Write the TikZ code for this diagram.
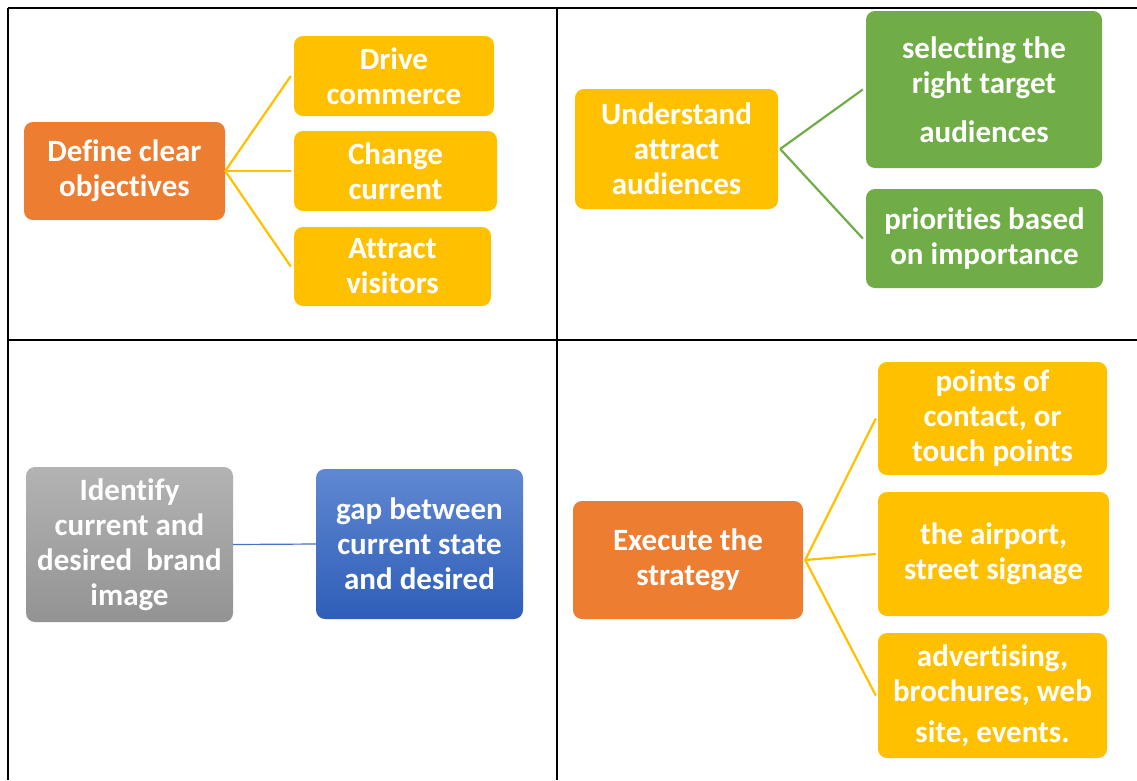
\documentclass[tikz,border=0pt]{standalone}
\usepackage{fontspec}
\setmainfont{Carlito}[Ligatures={NoCommon,NoRequired,NoContextual}]
\definecolor{cOrange}{HTML}{ED7D31}
\definecolor{cYellow}{HTML}{FFC000}
\definecolor{cGreen}{HTML}{70AD47}
\definecolor{cBlueTop}{HTML}{6088D2}
\definecolor{cBlueBot}{HTML}{2E5EB8}
\definecolor{cGrayTop}{HTML}{B3B3B3}
\definecolor{cGrayBot}{HTML}{939393}
\definecolor{cLineBlue}{HTML}{4472C4}
\tikzset{
  bx/.style={rectangle, rounded corners=9pt, inner sep=0pt, align=center,
    text=white, font=\bfseries\fontsize{31}{35}\selectfont},
  orangebox/.style={bx, fill=cOrange},
  yellowbox/.style={bx, fill=cYellow},
  greenbox/.style={bx, fill=cGreen},
  graybox/.style={bx, top color=cGrayTop, bottom color=cGrayBot},
  bluebox/.style={bx, top color=cBlueTop, bottom color=cBlueBot},
  gridline/.style={line width=2.2pt, black},
  yconn/.style={line width=2.2pt, cYellow},
  gconn/.style={line width=2.2pt, cGreen},
  bconn/.style={line width=1.2pt, cLineBlue},
}
\begin{document}
\begin{tikzpicture}[x=1pt,y=-1pt]
\useasboundingbox (0,0) rectangle (1137,780);
% table grid
\draw[gridline] (8,8) -- (1137,8);
\draw[gridline] (8,8) -- (8,780);
\draw[gridline] (557,8) -- (557,780);
\draw[gridline] (8,340) -- (1137,340);

% top-left
\node[orangebox, minimum width=201pt, minimum height=98pt] (obj) at (124.5,171) {Define clear\\objectives};
\node[yellowbox, minimum width=200pt, minimum height=80pt] (drive) at (394,76) {Drive\\commerce};
\node[yellowbox, minimum width=203pt, minimum height=80pt] (change) at (395.5,171) {Change\\current};
\node[yellowbox, minimum width=197pt, minimum height=79pt] (attract) at (392.5,266.5) {Attract\\visitors};
\draw[yconn] (obj.east) -- ([xshift=-3pt]drive.west);
\draw[yconn] (obj.east) -- ([xshift=-3pt]change.west);
\draw[yconn] (obj.east) -- ([xshift=-3pt]attract.west);

% top-right
\node[yellowbox, minimum width=203pt, minimum height=120pt] (und) at (676.5,149) {Understand\\attract\\audiences};
\node[greenbox, minimum width=236pt, minimum height=157pt] (sel) at (984,89.5) {selecting the\\right target\\[14pt]audiences};
\node[greenbox, minimum width=237pt, minimum height=99pt] (prio) at (984.5,238.5) {priorities based\\on importance};
\draw[gconn] ([xshift=2pt]und.east) -- ([xshift=-3pt]sel.west);
\draw[gconn] ([xshift=2pt]und.east) -- ([xshift=-3pt]prio.west);

% bottom-left
\node[graybox, minimum width=207pt, minimum height=155pt] (ident) at (129.5,544.5) {Identify\\current and\\desired~ brand\\image};
\node[bluebox, minimum width=207pt, minimum height=150pt] (gap) at (419.5,544) {gap between\\current state\\and desired};
\draw[bconn] (ident.east) -- (gap.west);

% bottom-right
\node[orangebox, minimum width=230pt, minimum height=118pt] (exec) at (688,560) {Execute the\\strategy};
\node[yellowbox, minimum width=229pt, minimum height=113pt] (pts) at (992.5,418.5) {points of\\contact, or\\touch points};
\node[yellowbox, minimum width=231pt, minimum height=124pt] (air) at (993.5,554) {the airport,\\street signage};
\node[yellowbox, minimum width=229pt, minimum height=125pt] (adv) at (992.5,695.5) {advertising,\\brochures, web\\[6pt]site, events.};
\draw[yconn] ([xshift=2pt]exec.east) -- ([xshift=-2pt]pts.west);
\draw[yconn] ([xshift=2pt]exec.east) -- ([xshift=-2pt]air.west);
\draw[yconn] ([xshift=2pt]exec.east) -- ([xshift=-2pt]adv.west);
\end{tikzpicture}
\end{document}
